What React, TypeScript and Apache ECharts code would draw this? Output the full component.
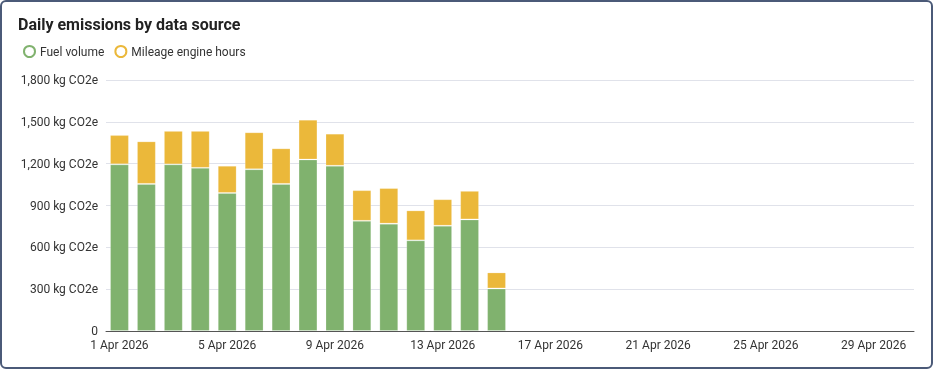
import React, { useEffect, useRef } from "react";
import * as echarts from "echarts";

const days: string[] = Array.from({ length: 30 }, (_, i) => `${i + 1} Apr 2026`);
const fuelVolume: number[] = [1195, 1055, 1195, 1170, 990, 1160, 1055, 1230, 1185, 790, 770, 650, 755, 800, 305];
const mileageEngineHours: number[] = [210, 305, 240, 265, 195, 265, 255, 285, 230, 220, 255, 215, 190, 205, 115];
const seriesNames: string[] = ["Fuel volume", "Mileage engine hours"];
const colors: string[] = ["#80b26e", "#ebb83a"];

export default function App() {
  const ref = useRef<HTMLDivElement>(null);
  useEffect(() => {
    const chart = echarts.init(ref.current!, null, { renderer: "svg" });
    const font = "Roboto, 'Noto Sans', sans-serif";
    chart.setOption({
      animation: false,
      textStyle: { fontFamily: font },
      title: {
        text: "Daily emissions by data source",
        left: 13,
        top: 11,
        textStyle: { fontSize: 16, fontWeight: "bold", color: "#222", fontFamily: font },
      },
      legend: {
        left: 18,
        top: 40,
        itemWidth: 11,
        itemHeight: 11,
        itemGap: 10,
        icon: "circle",
        textStyle: { fontSize: 12, color: "#333", fontFamily: font },
        data: seriesNames.map((n, i) => ({
          name: n,
          itemStyle: { color: "#fff", borderColor: colors[i], borderWidth: 2 },
        })),
      },
      grid: { left: 106, right: 19, top: 80, bottom: 39, containLabel: false },
      xAxis: {
        type: "category",
        data: days,
        axisLine: { lineStyle: { color: "#555", width: 1 } },
        axisTick: { show: false },
        axisLabel: { interval: 3, color: "#333", fontSize: 12, margin: 8, fontFamily: font },
      },
      yAxis: {
        type: "value",
        min: 0,
        max: 1800,
        interval: 300,
        axisLine: { show: false },
        axisTick: { show: false },
        splitLine: { lineStyle: { color: "#e0e2ea" } },
        axisLabel: {
          color: "#333",
          fontSize: 12,
          margin: 8,
          fontFamily: font,
          formatter: (v: number) => (v === 0 ? "0" : `${v.toLocaleString("en-US")} kg CO2e`),
        },
      },
      series: [
        {
          name: seriesNames[0],
          type: "bar",
          stack: "total",
          barWidth: "70%",
          data: fuelVolume,
          itemStyle: { color: colors[0], borderColor: "rgba(255,255,255,0.2)", borderWidth: 1 },
        },
        {
          name: seriesNames[1],
          type: "bar",
          stack: "total",
          barWidth: "70%",
          data: mileageEngineHours,
          itemStyle: { color: colors[1], borderColor: "rgba(255,255,255,0.2)", borderWidth: 1 },
        },
      ],
      graphic: [
        {
          type: "rect",
          shape: { x: 1, y: 1, width: 931, height: 367, r: 5 },
          style: { fill: "none", stroke: "#4b5a78", lineWidth: 2 },
          silent: true,
        },
      ],
    });
    return () => chart.dispose();
  }, []);
  return <div ref={ref} style={{ position: "fixed", left: 0, top: 0, width: 933, height: 370 }} />;
}
